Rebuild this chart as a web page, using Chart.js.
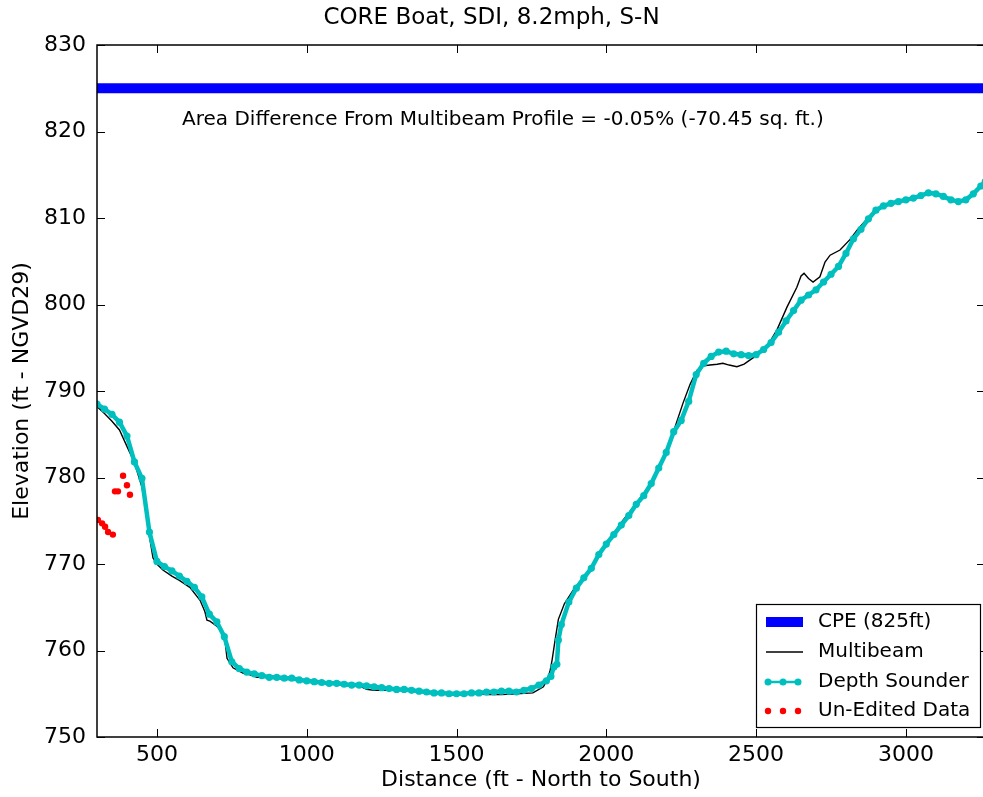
<!DOCTYPE html>
<html>
<head>
<meta charset="utf-8">
<script src="https://cdn.jsdelivr.net/npm/chart.js@4.4.1/dist/chart.umd.min.js"></script>
<style>
  html, body { margin: 0; padding: 0; background: #fff; overflow: hidden; }
  canvas { display: block; }
</style>
</head>
<body>
<canvas id="profileChart" width="990" height="797"></canvas>
<script>
// depth sounder (cyan)
const soundX = [300, 325, 350, 375, 400, 425, 450, 475, 500, 525, 550, 575, 600, 625, 650, 675, 700, 725, 750, 775,
    800, 825, 850, 875, 900, 925, 950, 975, 1000, 1025, 1050, 1075, 1100, 1125, 1150, 1175, 1200, 1225, 1250, 1275,
    1300, 1325, 1350, 1375, 1400, 1425, 1450, 1475, 1500, 1525, 1550, 1575, 1600, 1625, 1650, 1675, 1700, 1725, 1750, 1775,
    1800, 1815, 1825, 1835, 1840, 1850, 1875, 1900, 1925, 1950, 1975, 2000, 2025, 2050, 2075, 2100, 2125, 2150, 2175, 2200,
    2225, 2250, 2275, 2300, 2325, 2350, 2375, 2400, 2425, 2450, 2475, 2500, 2525, 2550, 2575, 2600, 2625, 2650, 2675, 2700,
    2725, 2750, 2775, 2800, 2825, 2850, 2875, 2900, 2925, 2950, 2975, 3000, 3025, 3050, 3075, 3100, 3125, 3150, 3175, 3200,
    3225, 3250, 3265];
const soundY = [788.5, 787.9, 787.3, 786.4, 784.8, 781.8, 779.9, 773.7, 770.3, 769.7, 769.2, 768.6, 768.0, 767.3, 766.2, 764.2, 763.3, 761.6, 758.7, 757.9,
    757.5, 757.3, 757.1, 756.9, 756.9, 756.8, 756.8, 756.6, 756.5, 756.4, 756.3, 756.2, 756.2, 756.1, 756.0, 756.0, 755.9, 755.8, 755.7, 755.6,
    755.5, 755.5, 755.4, 755.3, 755.2, 755.1, 755.1, 755.0, 755.0, 755.0, 755.1, 755.1, 755.2, 755.2, 755.3, 755.3, 755.2, 755.4, 755.6, 756.0,
    756.5, 757.0, 758.1, 758.4, 761.2, 763.0, 765.6, 767.2, 768.4, 769.5, 771.1, 772.3, 773.4, 774.5, 775.6, 776.9, 777.9, 779.3, 781.1, 782.9,
    785.3, 786.6, 788.8, 791.9, 793.2, 794.0, 794.5, 794.6, 794.3, 794.2, 794.1, 794.2, 794.8, 795.6, 796.8, 798.1, 799.3, 800.5, 801.1, 801.7,
    802.6, 803.5, 804.4, 805.9, 807.6, 808.7, 809.9, 810.9, 811.4, 811.7, 811.9, 812.1, 812.3, 812.6, 812.9, 812.8, 812.5, 812.1, 811.9, 812.1,
    812.8, 813.7, 814.2];

// multibeam (black)
const beamX = [300, 325, 350, 375, 400, 425, 450, 465, 475, 487, 500, 520, 550, 575, 610, 644, 660, 667, 677, 700,
    711, 727, 734, 754, 787, 811, 834, 875, 925, 1000, 1050, 1100, 1150, 1175, 1200, 1225, 1250, 1300, 1350, 1400,
    1450, 1500, 1550, 1600, 1650, 1700, 1755, 1790, 1802, 1812, 1819, 1829, 1840, 1860, 1890, 1950, 2000, 2050, 2100, 2150,
    2200, 2256, 2280, 2303, 2325, 2346, 2370, 2389, 2410, 2436, 2460, 2480, 2510, 2536, 2570, 2603, 2636, 2650, 2660, 2675,
    2690, 2713, 2730, 2747, 2780, 2813, 2837, 2870, 2900, 2950, 3000, 3050, 3080, 3110, 3140, 3165, 3200, 3225, 3250, 3265];
const beamY = [788.2, 787.4, 786.5, 785.5, 783.6, 781.7, 778.9, 776.0, 773.2, 770.7, 770.0, 769.3, 768.6, 768.1, 767.3, 765.8, 764.5, 763.5, 763.4, 762.8,
    762.4, 761.2, 759.1, 758.0, 757.4, 757.2, 756.9, 756.9, 756.8, 756.5, 756.3, 756.1, 755.9, 755.9, 755.5, 755.4, 755.4, 755.4, 755.3, 755.1,
    755.0, 755.0, 755.0, 754.9, 754.9, 755.0, 755.1, 755.8, 756.6, 757.6, 758.9, 761.2, 763.6, 765.4, 767.0, 769.5, 772.3, 774.8, 777.0, 779.4,
    782.8, 788.6, 790.8, 792.4, 792.9, 793.0, 793.1, 793.2, 793.0, 792.8, 793.1, 793.6, 794.3, 795.1, 797.1, 799.7, 802.0, 803.3, 803.6, 803.0,
    802.6, 803.2, 804.9, 805.7, 806.3, 807.5, 808.6, 809.9, 811.0, 811.8, 812.2, 812.7, 813.0, 812.8, 812.2, 811.9, 812.1, 812.9, 813.7, 814.2];

// un-edited data (red)
const rawX = [303, 317, 327, 337, 353, 360, 370, 387, 400, 410];
const rawY = [775.1, 774.7, 774.3, 773.7, 773.4, 778.4, 778.4, 780.2, 779.1, 778.0];

const cpeX = [300, 3264];
const cpeY = [825, 825];

const xTicks = [500, 1000, 1500, 2000, 2500, 3000];
const yTicks = [750, 760, 770, 780, 790, 800, 810, 820, 830];

const toPoints = (xs, ys) => xs.map((x, i) => ({ x: x, y: ys[i] }));

const FONT = "DejaVu Sans";
const CYAN = "#00bfbf";

// frame, inward ticks, title, note and legend drawn like matplotlib
const framePlugin = {
    id: "frame",
    afterDraw(chart) {
        const { ctx, chartArea: a, scales } = chart;
        ctx.save();
        ctx.strokeStyle = "#000";
        ctx.lineWidth = 1.5;
        ctx.strokeRect(a.left, a.top, a.right - a.left, a.bottom - a.top);

        ctx.lineWidth = 1;
        ctx.beginPath();
        xTicks.forEach(v => {
            const px = Math.round(scales.x.getPixelForValue(v)) + 0.5;
            ctx.moveTo(px, a.bottom); ctx.lineTo(px, a.bottom - 8);
            ctx.moveTo(px, a.top); ctx.lineTo(px, a.top + 8);
        });
        yTicks.forEach(v => {
            const py = Math.round(scales.y.getPixelForValue(v)) + 0.5;
            ctx.moveTo(a.left, py); ctx.lineTo(a.left + 8, py);
            ctx.moveTo(a.right, py); ctx.lineTo(a.right - 8, py);
        });
        ctx.stroke();

        ctx.fillStyle = "#000";
        ctx.font = "23px '" + FONT + "'";
        ctx.textAlign = "center";
        ctx.textBaseline = "middle";
        ctx.fillText("CORE Boat, SDI, 8.2mph, S-N", 491.5, 18);

        ctx.font = "20px '" + FONT + "'";
        ctx.textAlign = "left";
        ctx.fillText("Area Difference From Multibeam Profile = -0.05% (-70.45 sq. ft.)",
            scales.x.getPixelForValue(584), scales.y.getPixelForValue(821.3));

        // legend
        const lx = 756, ly = 604, lw = 224, lh = 123;
        ctx.fillStyle = "#fff";
        ctx.fillRect(lx, ly, lw, lh);
        ctx.strokeStyle = "#000";
        ctx.lineWidth = 1.2;
        ctx.strokeRect(lx + 0.5, ly + 0.5, lw, lh);

        const rows = [622, 652, 682, 711];
        ctx.fillStyle = "#0000ff";
        ctx.fillRect(766, rows[0] - 5, 37, 10);

        ctx.strokeStyle = "#000";
        ctx.lineWidth = 1.3;
        ctx.beginPath(); ctx.moveTo(766, rows[1]); ctx.lineTo(803, rows[1]); ctx.stroke();

        ctx.strokeStyle = CYAN;
        ctx.lineWidth = 2.5;
        ctx.beginPath(); ctx.moveTo(768, rows[2]); ctx.lineTo(798, rows[2]); ctx.stroke();
        ctx.fillStyle = CYAN;
        [768, 783, 798].forEach(x => { ctx.beginPath(); ctx.arc(x, rows[2], 3.5, 0, Math.PI * 2); ctx.fill(); });
        ctx.fillStyle = "#ff0000";
        [768, 783, 798].forEach(x => { ctx.beginPath(); ctx.arc(x, rows[3], 3.2, 0, Math.PI * 2); ctx.fill(); });

        ctx.fillStyle = "#000";
        ctx.font = "20px '" + FONT + "'";
        ctx.textBaseline = "middle";
        ["CPE (825ft)", "Multibeam", "Depth Sounder", "Un-Edited Data"].forEach((t, i) => {
            ctx.fillText(t, 818, rows[i]);
        });
        ctx.restore();
    }
};

new Chart(document.getElementById("profileChart"), {
    type: "scatter",
    data: {
        datasets: [
            {
                label: "Un-Edited Data",
                data: toPoints(rawX, rawY),
                backgroundColor: "#ff0000",
                borderColor: "#ff0000",
                pointRadius: 3.2,
                pointBorderWidth: 0,
                showLine: false,
                order: 0
            },
            {
                label: "Depth Sounder",
                data: toPoints(soundX, soundY),
                showLine: true,
                borderColor: CYAN,
                backgroundColor: CYAN,
                borderWidth: 4.5,
                pointRadius: 3.6,
                pointBorderWidth: 0,
                order: 1
            },
            {
                label: "Multibeam",
                data: toPoints(beamX, beamY),
                showLine: true,
                borderColor: "#000",
                borderWidth: 1.4,
                pointRadius: 0,
                order: 2
            },
            {
                label: "CPE (825ft)",
                data: toPoints(cpeX, cpeY),
                showLine: true,
                borderColor: "#0000ff",
                borderWidth: 10,
                pointRadius: 0,
                order: 3
            }
        ]
    },
    options: {
        responsive: false,
        animation: false,
        layout: { padding: { top: 45, right: 5, bottom: 0, left: 0 } },
        plugins: {
            legend: { display: false },
            tooltip: { enabled: false }
        },
        scales: {
            x: {
                type: "linear",
                min: 300,
                max: 3264,
                afterBuildTicks: s => { s.ticks = xTicks.map(v => ({ value: v })); },
                afterFit: s => { s.height = 60; },
                grid: { display: false, drawTicks: false },
                border: { display: false },
                ticks: { color: "#000", padding: 5, font: { family: FONT, size: 22 }, callback: v => String(v) },
                title: {
                    display: true,
                    text: "Distance (ft - North to South)",
                    color: "#000",
                    font: { family: FONT, size: 22 },
                    padding: { top: 0, bottom: 4 }
                }
            },
            y: {
                type: "linear",
                min: 750,
                max: 830,
                afterBuildTicks: s => { s.ticks = yTicks.map(v => ({ value: v })); },
                afterFit: s => { s.width = 97; },
                grid: { display: false, drawTicks: false },
                border: { display: false },
                ticks: { color: "#000", padding: 11, font: { family: FONT, size: 22 }, callback: v => String(v) },
                title: {
                    display: true,
                    text: "Elevation (ft - NGVD29)",
                    color: "#000",
                    font: { family: FONT, size: 22 },
                    padding: { top: 9, bottom: 0 }
                }
            }
        }
    },
    plugins: [framePlugin]
});
</script>
</body>
</html>
